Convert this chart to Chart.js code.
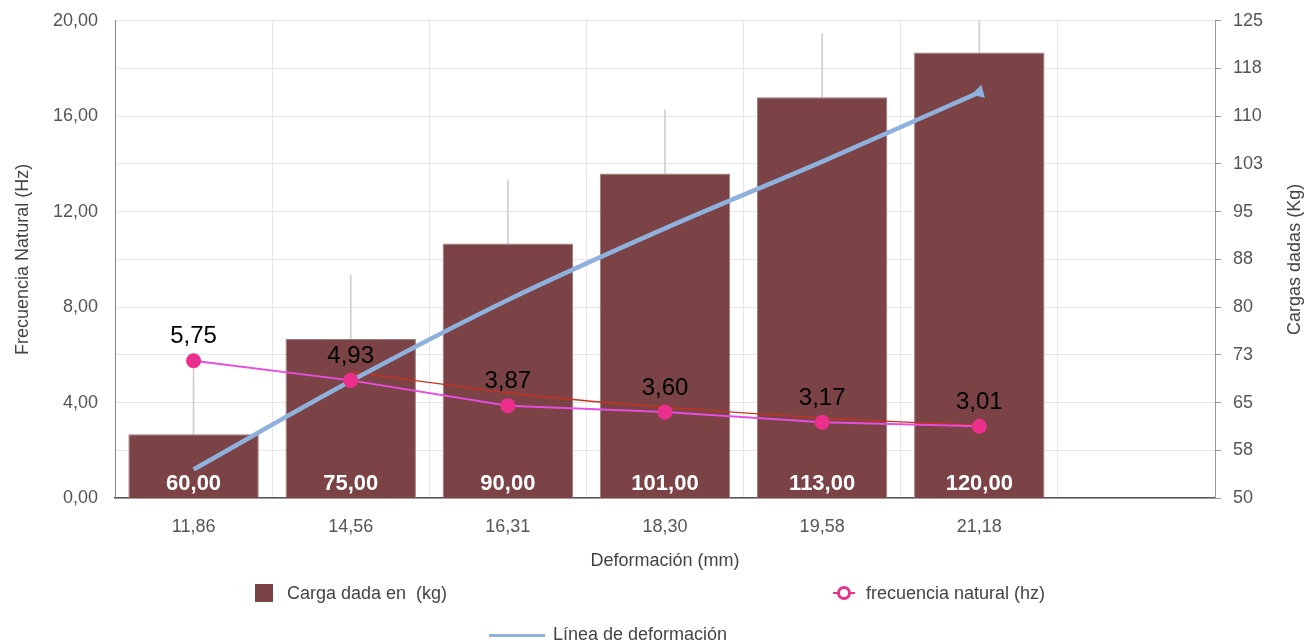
<!DOCTYPE html>
<html>
<head>
<meta charset="utf-8">
<script src="https://cdn.jsdelivr.net/npm/chart.js@4.4.1/dist/chart.umd.min.js"></script>
<style>
  html, body { margin: 0; padding: 0; background: #ffffff; }
  #wrap { position: relative; width: 1308px; height: 644px; overflow: hidden; }
  canvas { position: absolute; left: 0; top: -7px; }
  .lg { position: absolute; font-family: "Liberation Sans", Arial, sans-serif; font-size: 18px; color: #444; white-space: pre; line-height: 20px; }
  .sq { position: absolute; width: 18px; height: 18px; background: #7b4345; }
  .ring { position: absolute; width: 8px; height: 8px; border: 3.5px solid #e8318a; border-radius: 50%; background: #fff; }
  .ringline { position: absolute; height: 2px; width: 22px; background: #e8318a; }
  .bline { position: absolute; height: 3px; width: 56px; background: #8fb1dd; }
</style>
</head>
<body>
<div id="wrap">
  <canvas id="c" width="1308" height="651"></canvas>
  <div class="sq" style="left:255px; top:584px;"></div>
  <div class="lg" style="left:287px; top:583px;">Carga dada en  (kg)</div>
  <div class="ringline" style="left:833px; top:592px;"></div>
  <div class="ring" style="left:836.5px; top:585.5px;"></div>
  <div class="lg" style="left:866px; top:583px;">frecuencia natural (hz)</div>
  <div class="bline" style="left:489px; top:634px;"></div>
  <div class="lg" style="left:553px; top:624px;">Línea de deformación</div>
</div>
<script>
const categories = ['11,86', '14,56', '16,31', '18,30', '19,58', '21,18', ''];
const cargas = [60, 75, 90, 101, 113, 120];
const cargaErrorTop = [71, 85, 100, 111, 123, 131];
const frecuencia = [5.75, 4.93, 3.87, 3.60, 3.17, 3.01];
const lineaDeformacion = [1.2, 4.9, 8.3, 11.3, 14.1, 17.0];
const tendencia = [null, 5.3, 4.4, 3.8, 3.35, 3.05];
const leftMin = 0, leftMax = 20, leftStep = 2;
const rightMin = 50, rightMax = 125, rightStep = 3.75;
const rightTitle = 'Cargas dadas (Kg)';

const fmt2 = v => Number(v).toFixed(2).replace('.', ',');
const FONT = '"Liberation Sans", Arial, sans-serif';
const TICK_COLOR = '#555';

const labelsPlugin = {
  id: 'labelsPlugin',
  afterDraw(chart) {
    const ctx = chart.ctx;
    const area = chart.chartArea;
    ctx.save();
    // bar labels
    const barMeta = chart.getDatasetMeta(0);
    ctx.font = 'bold 22px ' + FONT;
    ctx.fillStyle = '#ffffff';
    ctx.textAlign = 'center';
    ctx.textBaseline = 'middle';
    barMeta.data.forEach((el, i) => {
      ctx.fillText(fmt2(cargas[i]), el.x, area.bottom - 14);
    });
    // frequency labels
    const fMeta = chart.getDatasetMeta(4);
    ctx.font = '24px ' + FONT;
    ctx.fillStyle = '#000000';
    fMeta.data.forEach((el, i) => {
      ctx.fillText(fmt2(frecuencia[i]), el.x, el.y - 24);
    });
    // right axis title, reading bottom to top
    ctx.translate(1295, (area.top + area.bottom) / 2);
    ctx.rotate(-Math.PI / 2);
    ctx.font = '18px ' + FONT;
    ctx.fillStyle = '#444';
    ctx.fillText(rightTitle, 0, 0);
    ctx.restore();
  }
};

new Chart(document.getElementById('c'), {
  data: {
    labels: categories,
    datasets: [
      {
        type: 'bar',
        label: 'Carga dada en  (kg)',
        data: cargas,
        yAxisID: 'y1',
        backgroundColor: '#7b4345',
        borderColor: '#9a7a7a',
        borderWidth: 1,
        categoryPercentage: 1.0,
        barPercentage: 0.83,
        grouped: false,
        order: 10
      },
      {
        type: 'bar',
        label: 'error',
        data: cargas.map((v, i) => [v, cargaErrorTop[i]]),
        yAxisID: 'y1',
        backgroundColor: '#cfcfcf',
        borderWidth: 0,
        barThickness: 1,
        grouped: false,
        order: 11
      },
      {
        type: 'line',
        label: 'tendencia',
        data: tendencia,
        yAxisID: 'y',
        borderColor: '#c8321e',
        borderWidth: 1.3,
        pointRadius: 0,
        tension: 0.2,
        order: 3
      },
      {
        type: 'line',
        label: 'Línea de deformación',
        data: lineaDeformacion,
        yAxisID: 'y',
        borderColor: '#8fb1dd',
        backgroundColor: '#8fb1dd',
        borderWidth: 4.5,
        tension: 0.25,
        cubicInterpolationMode: 'monotone',
        pointStyle: 'triangle',
        pointRadius: c => c.dataIndex === lineaDeformacion.length - 1 ? 8 : 0,
        pointRotation: 15,
        pointBorderWidth: 0,
        order: 2
      },
      {
        type: 'line',
        label: 'frecuencia natural (hz)',
        data: frecuencia,
        yAxisID: 'y',
        borderColor: '#e64ee0',
        borderWidth: 2,
        pointRadius: 7.5,
        pointBackgroundColor: '#ec2f8c',
        pointBorderColor: '#ec2f8c',
        pointBorderWidth: 0,
        tension: 0,
        order: 1
      }
    ]
  },
  options: {
    responsive: false,
    animation: false,
    layout: { padding: { top: 13, left: 0, right: 0, bottom: 72 } },
    plugins: { legend: { display: false }, tooltip: { enabled: false } },
    scales: {
      x: {
        type: 'category',
        offset: true,
        grid: { offset: true, color: '#e6e6e6', tickLength: 0 },
        border: { color: '#555', width: 1.5 },
        ticks: { color: TICK_COLOR, font: { family: FONT, size: 18 }, padding: 18, maxRotation: 0, autoSkip: false },
        title: { display: true, text: 'Deformación (mm)', color: '#444', font: { family: FONT, size: 18 }, padding: 0 },
        afterFit: s => { s.height = 74; }
      },
      y: {
        position: 'left',
        min: leftMin, max: leftMax,
        grid: { color: '#e6e6e6', tickLength: 0 },
        border: { color: '#888', width: 1 },
        ticks: {
          stepSize: leftStep,
          color: TICK_COLOR, font: { family: FONT, size: 18 }, padding: 17,
          callback: v => (v % 4 === 0 ? fmt2(v) : '')
        },
        title: { display: true, text: 'Frecuencia Natural (Hz)', color: '#444', font: { family: FONT, size: 18 }, padding: { top: 12, bottom: 0 } },
        afterFit: s => { s.width = 115; }
      },
      y1: {
        position: 'right',
        min: rightMin, max: rightMax,
        grid: { drawOnChartArea: false, color: '#999', tickLength: 6 },
        border: { color: '#999', width: 1 },
        ticks: {
          stepSize: rightStep,
          color: TICK_COLOR, font: { family: FONT, size: 18 }, padding: 12,
          callback: (v, i) => (i % 2 === 0 ? String(Math.round(v)) : '')
        },
        afterFit: s => { s.width = 93; }
      }
    }
  },
  plugins: [labelsPlugin]
});
</script>
</body>
</html>
